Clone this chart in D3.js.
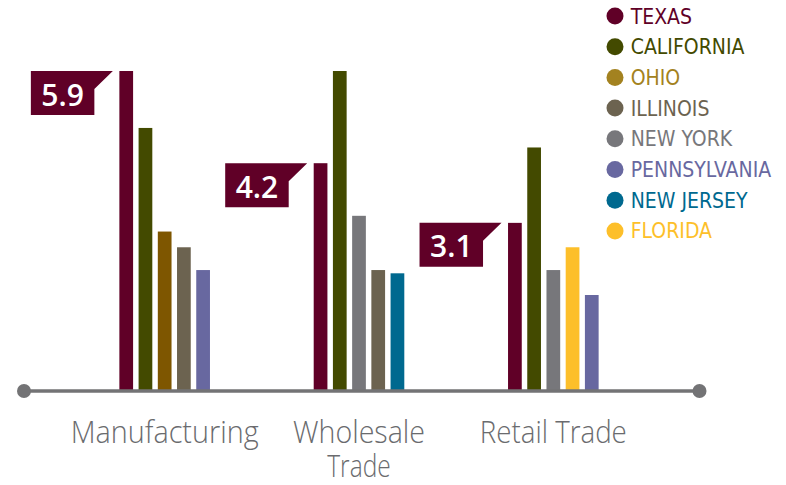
<!DOCTYPE html>
<html>
<head>
<meta charset="utf-8">
<script src="https://cdn.jsdelivr.net/npm/d3@7"></script>
<style>
  html, body { margin: 0; padding: 0; background: #ffffff; }
  svg { display: block; }
</style>
</head>
<body>
<svg id="chart" width="786" height="485"></svg>
<script>
// Industry groups along the axis and the label lines drawn under each
const categories = ["Manufacturing", "Wholesale Trade", "Retail Trade"];
const categoryLines = [["Manufacturing"], ["Wholesale", "Trade"], ["Retail Trade"]];

// States shown in the legend
const states = ["TEXAS", "CALIFORNIA", "OHIO", "ILLINOIS", "NEW YORK", "PENNSYLVANIA", "NEW JERSEY", "FLORIDA"];
const stateColors = ["#600027", "#434a00", "#7e5600", "#6c6350", "#77777b", "#6868a0", "#00698f", "#fdbf2a"];
const legendColors = ["#600027", "#434a00", "#a38220", "#6c6350", "#77777b", "#6868a0", "#00698f", "#fdbf2a"];

// Top five states in each industry, in the order the bars are drawn
const manufacturingStates = ["TEXAS", "CALIFORNIA", "OHIO", "ILLINOIS", "PENNSYLVANIA"];
const manufacturingValues = [5.9, 4.85, 2.94, 2.65, 2.23];
const wholesaleStates = ["TEXAS", "CALIFORNIA", "NEW YORK", "ILLINOIS", "NEW JERSEY"];
const wholesaleValues = [4.2, 5.9, 3.23, 2.23, 2.17];
const retailStates = ["TEXAS", "CALIFORNIA", "NEW YORK", "FLORIDA", "PENNSYLVANIA"];
const retailValues = [3.1, 4.49, 2.23, 2.65, 1.77];

// Texas value shown in the callout of each group
const calloutValues = [5.9, 4.2, 3.1];

const groupStates = [manufacturingStates, wholesaleStates, retailStates];
const groupValues = [manufacturingValues, wholesaleValues, retailValues];

const svg = d3.select("#chart");
const baseY = 391;

const color = d3.scaleOrdinal().domain(states).range(stateColors);
const legendColor = d3.scaleOrdinal().domain(states).range(legendColors);

const x = d3.scaleBand().domain(categories).range([67.5, 650.5]).paddingInner(0).paddingOuter(0);
const xInner = d3.scaleBand().domain(d3.range(5)).range([-45.3, 45.3]).paddingInner(0.286).paddingOuter(0);
const y = d3.scaleLinear().domain([0, 5.9]).range([baseY, 71]);

const bars = [];
categories.forEach((c, gi) => {
  groupStates[gi].forEach((s, i) => {
    bars.push({ cat: c, state: s, idx: i, value: groupValues[gi][i] });
  });
});

// Bars
svg.append("g").selectAll("rect")
  .data(bars)
  .join("rect")
  .attr("x", d => x(d.cat) + x.bandwidth() / 2 + xInner(d.idx))
  .attr("y", d => y(d.value))
  .attr("width", xInner.bandwidth())
  .attr("height", d => y(0) - y(d.value))
  .attr("fill", d => color(d.state));

// Baseline with round end caps
const axisG = svg.append("g");
axisG.append("line")
  .attr("x1", 24).attr("x2", 699.5)
  .attr("y1", baseY).attr("y2", baseY)
  .attr("stroke", "#737375").attr("stroke-width", 3.5);
axisG.selectAll("circle")
  .data([24, 699.5])
  .join("circle")
  .attr("cx", d => d).attr("cy", baseY).attr("r", 7)
  .attr("fill", "#737375");

// Category labels via a bottom axis
const xAxis = d3.axisBottom(x).tickSize(0).tickFormat("");
const ax = svg.append("g").attr("transform", `translate(0,${baseY})`).call(xAxis);
ax.select(".domain").remove();
const labelWidths = { "Manufacturing": 188, "Wholesale": 132, "Trade": 63.5, "Retail Trade": 147 };
ax.selectAll(".tick").each(function (d, i) {
  const t = d3.select(this).select("text")
    .attr("y", 0).attr("dy", null)
    .attr("fill", "#6a6b6e")
    .attr("font-family", "'Open Sans', 'DejaVu Sans', sans-serif")
    .attr("font-weight", 300)
    .attr("font-size", 31)
    .attr("text-anchor", "middle");
  categoryLines[i].forEach((line, li) => {
    t.append("tspan")
      .attr("x", 0)
      .attr("y", 51.7 + li * 34)
      .attr("textLength", labelWidths[line])
      .attr("lengthAdjust", "spacingAndGlyphs")
      .text(line);
  });
});

// Value callouts next to the Texas bars
const callG = svg.append("g");
categories.forEach((c, gi) => {
  const barX = x(c) + x.bandwidth() / 2 + xInner(0);
  const top = y(calloutValues[gi]);
  const tip = barX - 6.5;
  const left = barX - 88.5;
  const notch = tip - 18.5;
  callG.append("path")
    .attr("d", `M${left},${top} L${tip},${top} L${notch},${top + 18} L${notch},${top + 44} L${left},${top + 44} Z`)
    .attr("fill", "#600027");
  callG.append("text")
    .attr("x", (left + notch) / 2)
    .attr("y", top + 34.5)
    .attr("text-anchor", "middle")
    .attr("fill", "#ffffff")
    .attr("font-family", "'Open Sans', 'DejaVu Sans', sans-serif")
    .attr("font-weight", 600)
    .attr("font-size", 30)
    .text(d3.format(".1f")(calloutValues[gi]));
});

// Legend
const legend = svg.append("g").selectAll("g")
  .data(states)
  .join("g")
  .attr("transform", (d, i) => `translate(615,${16 + i * 30.7})`);
legend.append("circle")
  .attr("r", 8.5)
  .attr("fill", d => legendColor(d));
legend.append("text")
  .attr("x", 15.7)
  .attr("y", 7.5)
  .attr("fill", d => legendColor(d))
  .attr("font-family", "'Liberation Sans Narrow', 'DejaVu Sans Condensed', sans-serif")
  .attr("font-size", 21)
  .text(d => d);
</script>
</body>
</html>
